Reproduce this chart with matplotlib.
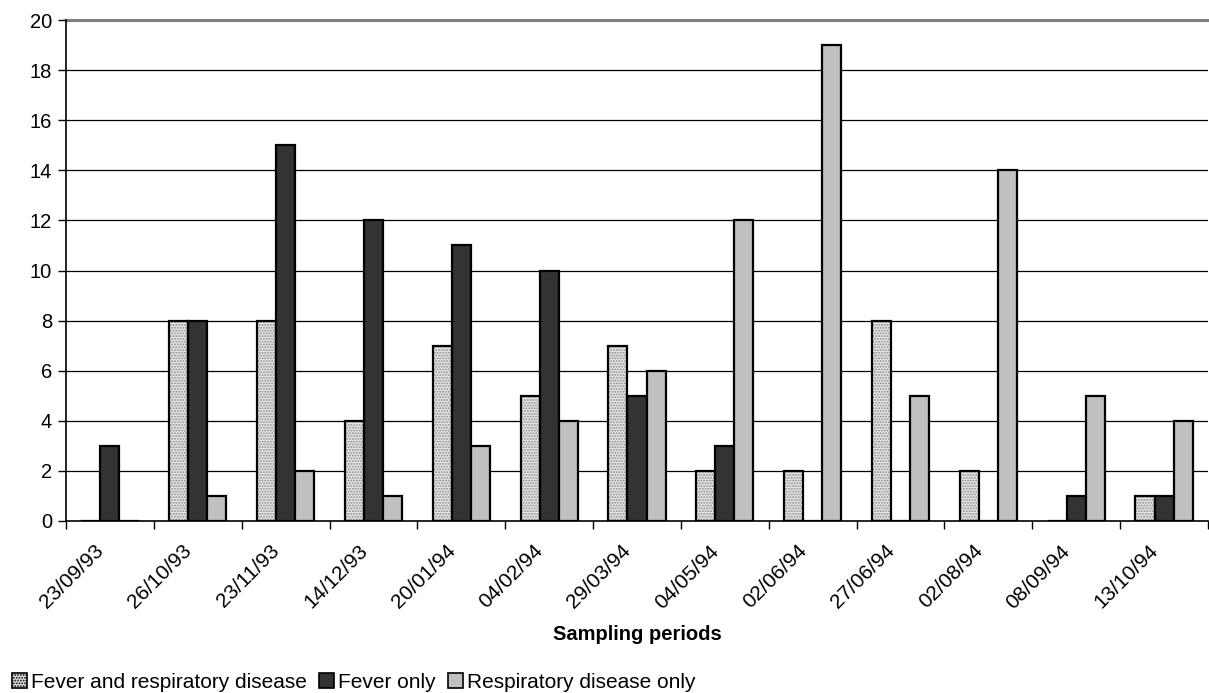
import matplotlib
matplotlib.use("Agg")
import matplotlib.pyplot as plt
import matplotlib.transforms as mtransforms
import numpy as np
from matplotlib.patches import Patch

plt.rcParams['font.family'] = ['Liberation Sans', 'DejaVu Sans']

periods = ["23/09/93", "26/10/93", "23/11/93", "14/12/93", "20/01/94", "04/02/94",
           "29/03/94", "04/05/94", "02/06/94", "27/06/94", "02/08/94", "08/09/94", "13/10/94"]
fever_resp = [0, 8, 8, 4, 7, 5, 7, 2, 2, 8, 2, 0, 1]
fever_only = [3, 8, 15, 12, 11, 10, 5, 3, 0, 0, 0, 1, 1]
resp_only = [0, 1, 2, 1, 3, 4, 6, 12, 19, 5, 14, 5, 4]
series_names = ["Fever and respiratory disease", "Fever only", "Respiratory disease only"]

W, H = 1209, 693
fig = plt.figure(figsize=(W / 100, H / 100), dpi=100)
ax = fig.add_axes([66 / W, 1 - 521 / H, (1208 - 66) / W, (521 - 20) / H])

x = np.arange(len(periods))
w = 0.217
plt.rcParams['hatch.linewidth'] = 0.9

# stippled series: hatch layer in grey, then black outline on top
ax.bar(x - w, fever_resp, w, color='#e4e4e4', edgecolor='#8c8c8c', hatch='......',
       linewidth=0, zorder=3)
ax.bar(x - w, fever_resp, w, facecolor='none', edgecolor='black', linewidth=1.6, zorder=4)
ax.bar(x, fever_only, w, color='#333333', edgecolor='black', linewidth=1.6, zorder=3)
ax.bar(x + w, resp_only, w, color='#c0c0c0', edgecolor='black', linewidth=1.6, zorder=3)

ax.set_xlim(-0.5, len(periods) - 0.5)
ax.set_ylim(0, 20)
ax.set_yticks(np.arange(0, 21, 2))
for v in range(2, 20, 2):
    ax.axhline(v, color='black', linewidth=0.9, zorder=1)
ax.axhline(20, color='#808080', linewidth=2.2, zorder=1, clip_on=False)

ax.set_xticks(np.arange(len(periods) + 1) - 0.5, minor=False)
ax.set_xticklabels([])
ax.set_xticks(x, minor=True)
ax.set_xticklabels(periods, minor=True, rotation=45, ha='right', va='center',
                   rotation_mode='anchor', fontsize=15)
ax.tick_params(axis='x', which='minor', length=0, pad=0)
ax.tick_params(axis='x', which='major', length=6, width=1, direction='out')
ax.tick_params(axis='y', length=6, width=1, direction='out', labelsize=14.5, pad=4)

shift = mtransforms.ScaledTranslation(-0.09, -0.27, fig.dpi_scale_trans)
for lab in ax.get_xticklabels(minor=True):
    lab.set_transform(lab.get_transform() + shift)

for s in ['top', 'right']:
    ax.spines[s].set_visible(False)
ax.spines['left'].set_linewidth(1.2)
ax.spines['bottom'].set_linewidth(1.2)

fig.text((66 + 1208) / 2 / W, 1 - 635 / H, "Sampling periods", fontsize=14.5,
         fontweight='bold', ha='center', va='center')

handles = [
    Patch(facecolor='#e4e4e4', edgecolor='black', hatch='......', linewidth=1.2),
    Patch(facecolor='#333333', edgecolor='black', linewidth=1.2),
    Patch(facecolor='#c0c0c0', edgecolor='black', linewidth=1.2),
]
fig.legend(handles, series_names, loc='center left', bbox_to_anchor=(12 / W, 1 - 682 / H),
           ncol=3, frameon=False, fontsize=15, handlelength=0.7, handleheight=0.7,
           handletextpad=0.2, columnspacing=0.6, borderaxespad=0, borderpad=0)

fig.savefig("out.png", dpi=100)
